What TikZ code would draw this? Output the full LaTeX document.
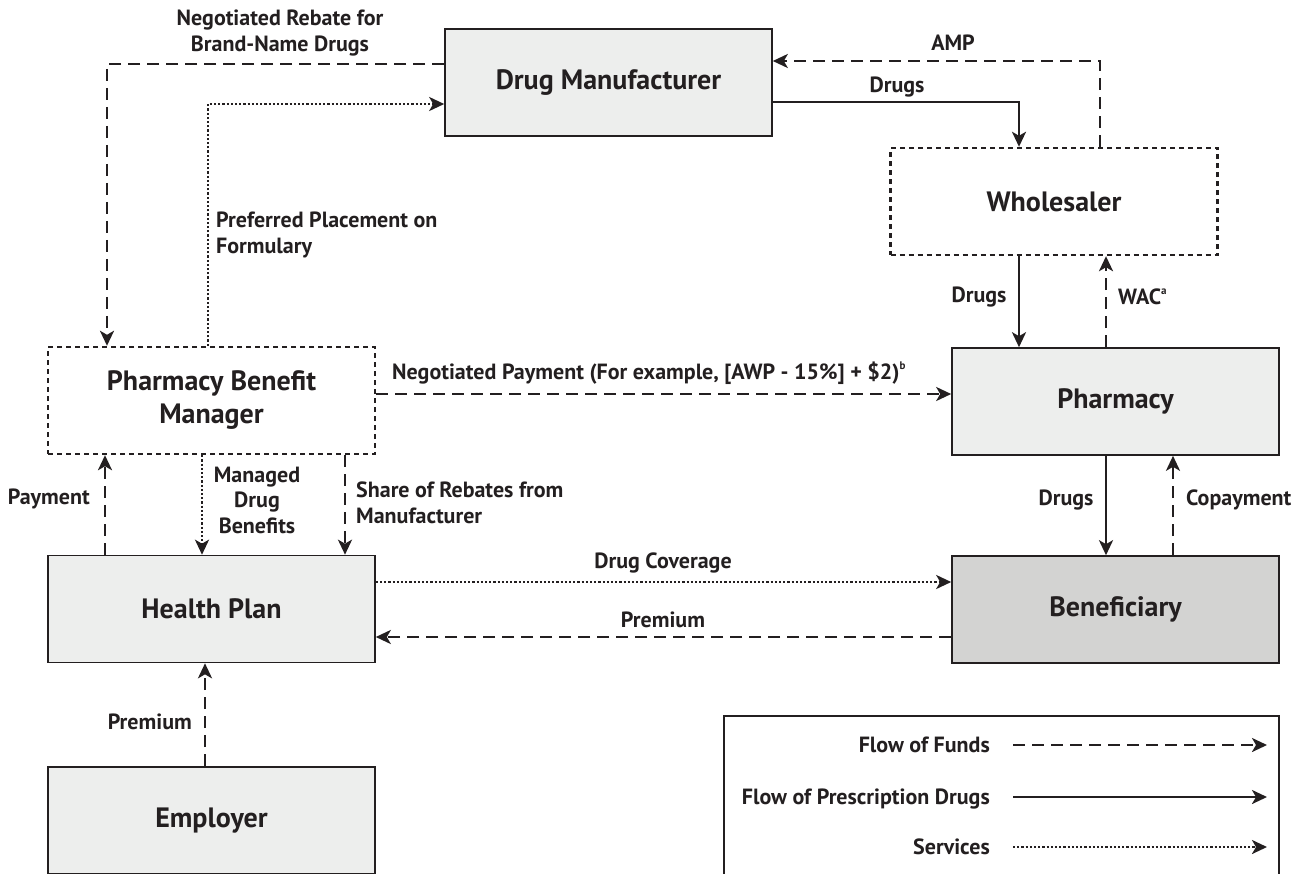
\documentclass[tikz,border=0pt]{standalone}
\usepackage{fontspec}
\setmainfont{PT Sans}
\usetikzlibrary{arrows.meta}
\definecolor{ink}{HTML}{231F20}
\definecolor{boxgray}{HTML}{EDEEED}
\definecolor{benegray}{HTML}{D3D3D2}
\newcommand{\supnote}[1]{\raisebox{10pt}{\fontsize{11}{11}\selectfont #1}}
\tikzset{
  box/.style={draw=ink,line width=1.6pt,fill=boxgray,minimum width=327pt,minimum height=107pt,
    inner sep=0pt,align=center,text=ink,font=\fontsize{28}{33}\selectfont\bfseries},
  dbox/.style={box,fill=none,line width=2.4pt,dash pattern=on 5pt off 4pt},
  lbl/.style={inner sep=0pt,text=ink,font=\fontsize{22}{25.5}\selectfont\bfseries},
  flow/.style={draw=ink,line width=2.5pt,-{Stealth[length=15pt,width=14pt,inset=4pt]}},
  drugs/.style={flow},
  funds/.style={flow,dash pattern=on 12pt off 7pt},
  services/.style={flow,dash pattern=on 2.2pt off 2pt},
}
\begin{document}
\begin{tikzpicture}[x=1pt,y=-1pt]
    \useasboundingbox (0,0) rectangle (1304,873);
    \clip (0,0) rectangle (1304,873);
    \node[box] (man) at (608.5,82.5) {Drug Manufacturer};
    \node[dbox] (whs) at (1054,201.5) {Wholesaler};
    \node[box] (pha) at (1115.5,401.5) {Pharmacy};
    \node[box,fill=benegray] (ben) at (1115.5,609.5) {Beneficiary};
    \node[dbox] (pbm) at (211.5,400.5) {Pharmacy Benefit\\Manager};
    \node[box] (hpl) at (211.5,609) {Health Plan};
    \node[box] (emp) at (211.5,820.5) {Employer};
    \node[draw=ink,line width=1.6pt,minimum width=555pt,minimum height=180pt,inner sep=0pt] (key) at (1001.5,806) {};

    \coordinate (w1) at ([xshift=-35pt]whs.south);
    \coordinate (p1) at ([xshift=-9.5pt]pha.north);
    \coordinate (n1) at ([yshift=6.5pt]pbm.east);
    \coordinate (h1) at ([xshift=-106.5pt]hpl.north);
    \coordinate (m1) at ([xshift=-9.5pt]pbm.south);
    \coordinate (m2) at ([xshift=133.5pt]pbm.south);
    \coordinate (c1) at ([yshift=27pt]hpl.east);
    \coordinate (c2) at ([yshift=-27.5pt]ben.west);
    \coordinate (d1) at ([xshift=-9.5pt]pha.south);
    \coordinate (d2) at ([xshift=57.5pt]ben.north);
    \coordinate (e1) at ([xshift=-6.5pt]emp.north);

    \draw[funds] ([yshift=18.5pt]man.west) -| ([xshift=-104.5pt]pbm.north);
    \draw[services] ([xshift=-3.5pt]pbm.north) |- ([yshift=-21.5pt]man.west);
    \draw[funds] ([xshift=46pt]whs.north) |- ([yshift=21.5pt]man.east);
    \draw[drugs] ([yshift=-19.5pt]man.east) -| ([xshift=-35pt]whs.north);
    \draw[drugs] (w1) -- (w1 |- pha.north);
    \draw[funds] (p1) -- (p1 |- whs.south);
    \draw[funds] (n1) -- (n1 -| pha.west);
    \draw[funds] (h1) -- (h1 |- pbm.south);
    \draw[services] (m1) -- (m1 |- hpl.north);
    \draw[funds] (m2) -- (m2 |- hpl.north);
    \draw[services] (c1) -- (c1 -| ben.west);
    \draw[funds] (c2) -- (c2 -| hpl.east);
    \draw[drugs] (d1) -- (d1 |- ben.north);
    \draw[funds] (d2) -- (d2 |- pha.south);
    \draw[funds] (e1) -- (e1 |- hpl.south);

    \node[lbl,align=center] (lrebate) at (280,33) {Negotiated Rebate for\\Brand-Name Drugs};
    \node[lbl,align=left,anchor=west] (lpref) at (216,235) {Preferred Placement on\\Formulary};
    \node[lbl] (lamp) at (953,43) {AMP};
    \node[lbl] (ldrugs1) at (897,87) {Drugs};
    \node[lbl] (ldrugs2) at (979,297) {Drugs};
    \node[lbl,anchor=west] (lwac) at (1118,297) {WAC\supnote{a}};
    \node[lbl,anchor=west] (lnego) at (392,373) {Negotiated Payment (For example, [AWP - 15\%] + \$2)\supnote{b}};
    \node[lbl,anchor=east] (lpay) at (90,499) {Payment};
    \node[lbl,align=center] (lmanaged) at (257,500) {Managed\\Drug\\Benefits};
    \node[lbl,align=left,anchor=west] (lshare) at (356,503) {Share of Rebates from\\Manufacturer};
    \node[lbl] (lcover) at (663,563) {Drug Coverage};
    \node[lbl] (lprem1) at (663,620) {Premium};
    \node[lbl] (ldrugs3) at (1066,500) {Drugs};
    \node[lbl,anchor=west] (lcopay) at (1186,500) {Copayment};
    \node[lbl,anchor=east] (lprem2) at (192,722) {Premium};

    \foreach \y/\s/\t in {752/funds/Flow of Funds,804/drugs/Flow of Prescription Drugs,854/services/Services}{
      \node[lbl,anchor=base east] (k\s) at (990,\y) {\t};
      \coordinate (t\s) at (1267,\y-7);
      \draw[\s] ([xshift=23pt,yshift=7pt]k\s.base east) -- (t\s);
    }
\end{tikzpicture}
\end{document}
